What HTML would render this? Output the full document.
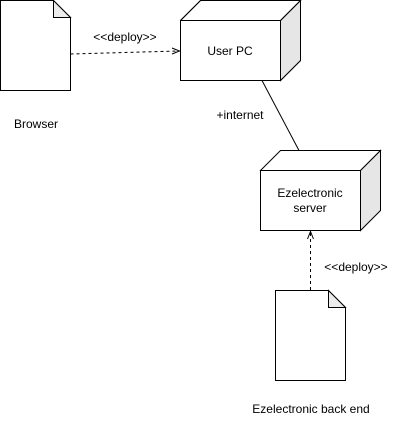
<!DOCTYPE html>
<html><head><style>body{margin:0;background:#fff}svg{display:block}</style></head><body>
<svg width="401" height="426" xmlns="http://www.w3.org/2000/svg" font-family="Liberation Sans, sans-serif" font-size="12" fill="none">
<rect width="401" height="426" fill="#fff"/>
<!-- Browser doc -->
<path d="M0.5 0.5 H53.5 L70.5 17.5 V90.5 H0.5 Z" fill="#fff" stroke="#000"/>
<path d="M53.5 0.5 V17.5 H70.5 Z" fill="#ececec" stroke="#000"/>
<!-- User PC node -->
<path d="M180.5 20.5 L200.5 0.5 H300.5 V60.5 L280.5 80.5 Z" fill="#fff" stroke="#000"/>
<path d="M280.5 20.5 L300.5 0.5 V60.5 L280.5 80.5 Z" fill="#e6e6e6" stroke="#000"/>
<path d="M180.5 20.5 H280.5 V80.5 H180.5 Z M180.5 20.5 L200.5 0.5 H300.5 L280.5 20.5" fill="none" stroke="#000"/>
<rect x="180.5" y="20.5" width="100" height="60" fill="#fff" stroke="#000"/>
<!-- Server node -->
<path d="M260.5 170.5 L280.5 150.5 H380.5 L360.5 170.5 Z" fill="#fff" stroke="#000"/>
<path d="M360.5 170.5 L380.5 150.5 V210.5 L360.5 230.5 Z" fill="#e6e6e6" stroke="#000"/>
<rect x="260.5" y="170.5" width="100" height="60" fill="#fff" stroke="#000"/>
<!-- back end doc -->
<path d="M275.5 290.5 H328.5 L345.5 307.5 V380.5 H275.5 Z" fill="#fff" stroke="#000"/>
<path d="M328.5 290.5 V307.5 H345.5 Z" fill="#ececec" stroke="#000"/>
<!-- connectors -->
<path d="M70.5 54 L178 51" stroke="#000" stroke-dasharray="3 3"/>
<path d="M172 48 L179.5 51 L172 54" stroke="#000"/>
<path d="M262 80.5 L299 150.5" stroke="#000"/>
<path d="M310.5 290 V233" stroke="#000" stroke-dasharray="3 3"/>
<path d="M307.5 239 L310.5 231.5 L313.5 239" stroke="#000"/>
<!-- labels -->
<g fill="#000" text-anchor="middle" font-size="12">
<text x="125" y="41">&lt;&lt;deploy&gt;&gt;</text>
<text x="230" y="55">User PC</text>
<text x="36" y="128">Browser</text>
<text x="240" y="119">+internet</text>
<text x="310" y="197">Ezelectronic</text>
<text x="310" y="212">server</text>
<text x="356" y="271">&lt;&lt;deploy&gt;&gt;</text>
<text x="311" y="413">Ezelectronic back end</text>
</g>
</svg>
</body></html>
